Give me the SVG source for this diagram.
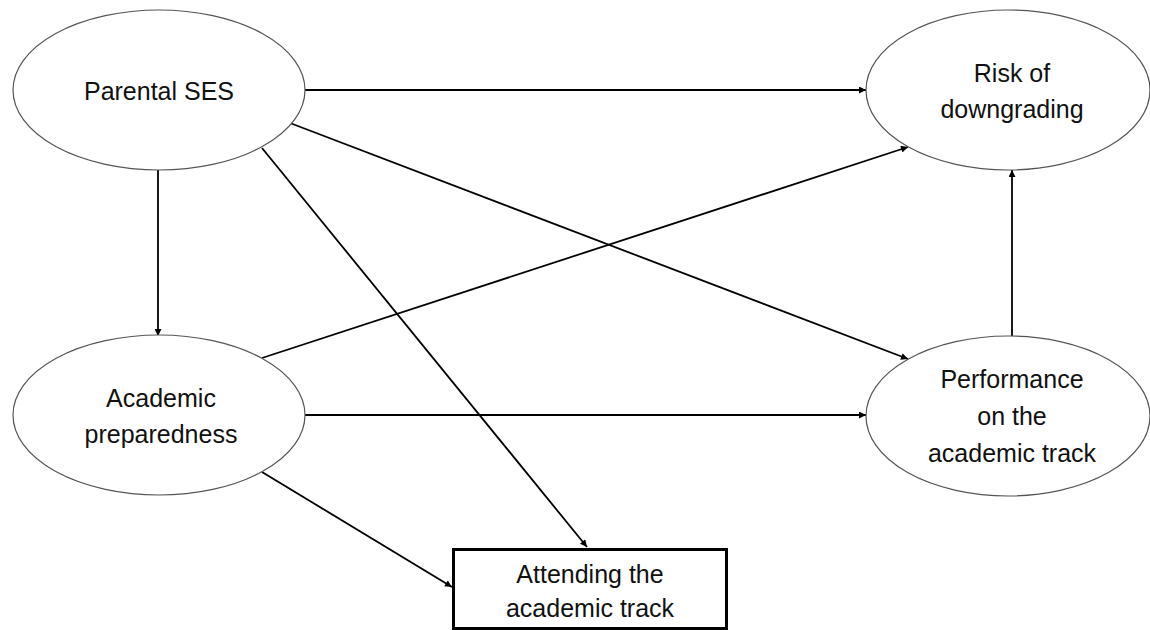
<svg xmlns="http://www.w3.org/2000/svg" width="1150" height="630" viewBox="0 0 1150 630">
<style>
.node ellipse{fill:#fff;stroke:#555;stroke-width:1.2}
.box{fill:#fff;stroke:#000;stroke-width:3}
text{font-family:"Liberation Sans",Arial,sans-serif;font-size:25px;fill:#111;text-anchor:middle}
.conn line{stroke:#000;stroke-width:1.8;marker-end:url(#ah)}
</style>
<defs>
<marker id="ah" viewBox="0 0 10 10" refX="10" refY="5" markerWidth="8" markerHeight="7" orient="auto" markerUnits="userSpaceOnUse">
<path d="M0,0 L10,5 L0,10 z" fill="#000"/>
</marker>
</defs>
<rect width="1150" height="630" fill="#fff"/>
<g id="connectors" class="conn">
<line x1="305" y1="90" x2="866" y2="90"/>
<line x1="290" y1="123" x2="908" y2="359"/>
<line x1="262" y1="148" x2="587" y2="547"/>
<line x1="158" y1="170" x2="158" y2="336"/>
<line x1="262" y1="358" x2="908" y2="147"/>
<line x1="305" y1="415" x2="866" y2="415"/>
<line x1="262" y1="472" x2="452" y2="587"/>
<line x1="1012" y1="336" x2="1012" y2="170"/>
</g>
<g id="parental-ses" class="node">
<ellipse cx="159" cy="90" rx="146" ry="80"/>
<text x="159" y="100">Parental SES</text>
</g>
<g id="risk-downgrading" class="node">
<ellipse cx="1008" cy="90" rx="142" ry="80"/>
<text x="1012" y="82">Risk of</text>
<text x="1012" y="118">downgrading</text>
</g>
<g id="academic-preparedness" class="node">
<ellipse cx="159" cy="415" rx="146" ry="80"/>
<text x="161" y="407">Academic</text>
<text x="161" y="443">preparedness</text>
</g>
<g id="performance" class="node">
<ellipse cx="1008" cy="416" rx="142" ry="80"/>
<text x="1012" y="388">Performance</text>
<text x="1012" y="425">on the</text>
<text x="1012" y="462">academic track</text>
</g>
<g id="attending" class="node">
<rect class="box" x="453.5" y="549.5" width="273" height="79"/>
<text x="590" y="583">Attending the</text>
<text x="590" y="617">academic track</text>
</g>
</svg>
